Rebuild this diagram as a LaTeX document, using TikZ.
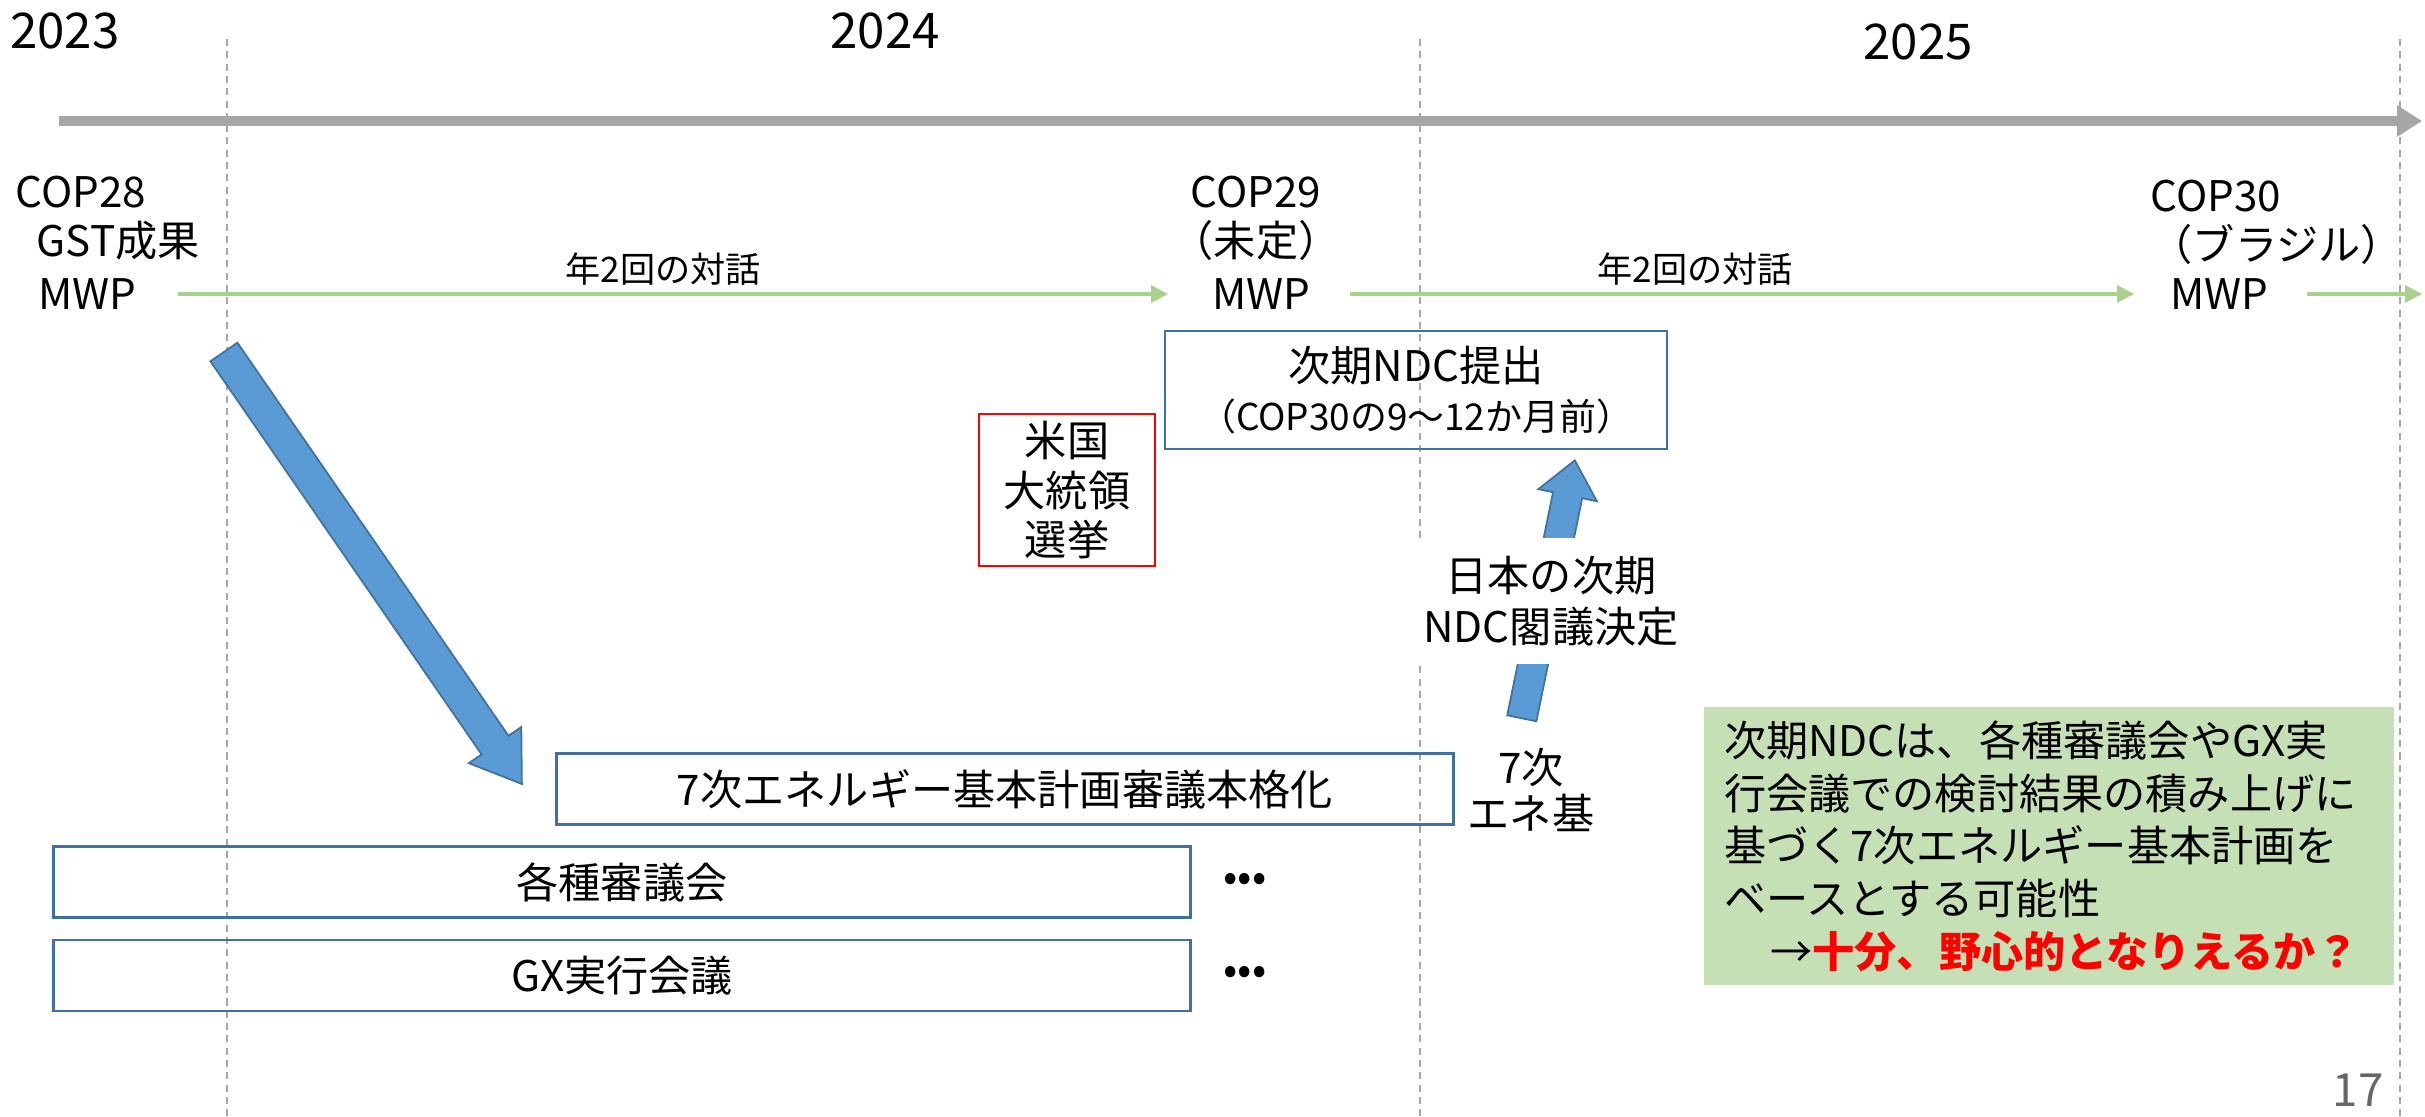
\documentclass[tikz,border=0pt]{standalone}
\usepackage{fontspec}
\setmainfont{Noto Sans CJK JP}
\usetikzlibrary{positioning, calc, arrows.meta, shapes.arrows}
\definecolor{axisgray}{HTML}{A6A6A6}
\definecolor{dialoggreen}{HTML}{A9D18E}
\definecolor{boxblue}{HTML}{41719C}
\definecolor{arrowblue}{HTML}{5B9BD5}
\definecolor{notegreen}{HTML}{C5E0B4}
\definecolor{alertred}{HTML}{FF0000}
\tikzset{
    every node/.style={inner sep=0pt, font=\fontsize{12}{14}\selectfont}, % plain text by default
    year/.style={font=\fontsize{14}{16}\selectfont}, % the year headings
    timeaxis/.style={axisgray, line width=2.6pt, -{Triangle[length=0.25cm, width=0.3cm]}}, % the grey time axis
    yearline/.style={axisgray, line width=0.6pt, dash pattern=on 2pt off 1.5pt}, % year boundaries
    dialog/.style={dialoggreen, line width=1pt, -{Triangle[length=0.17cm, width=0.17cm]}}, % green dialogue arrows
    dialog label/.style={text=black, font=\fontsize{10}{12}\selectfont, above=2pt},
    planbox/.style={draw=boxblue, line width=0.7pt, align=center}, % blue outlined boxes
    alertbox/.style={draw=alertred, line width=0.7pt, align=center},
    blockarrow/.style={single arrow, draw=boxblue, fill=arrowblue, line width=0.5pt, inner xsep=0pt, single arrow head indent=0pt}, % fat blue arrows
    notebox/.style={fill=notegreen, align=left, inner xsep=0.2cm, font=\fontsize{12}{15}\selectfont},
}
\begin{document}
\begin{tikzpicture}
\useasboundingbox (0,0) rectangle (24.25,11.16);

% years and their boundaries
\node[year] (y2023) at (0.65,10.85) {2023};
\node[year] (y2024) at (8.85,10.85) {2024};
\node[year] (y2025) at (19.18,10.74) {2025};
\foreach \x in {2.27,14.20,24.00}
    \draw[yearline] (\x,10.77) -- (\x,0);
\coordinate (axisstart) at (0.59,9.95);
\coordinate (axisend) at (24.22,9.95);
\draw[timeaxis] (axisstart) -- (axisend);

% COP meetings
\node[anchor=west, align=left] (cop28) at (0.15,8.98) {COP28\\\hspace*{0.5em}GST成果};
\node (mwp28) at (0.87,8.22) {MWP};
\node[align=center] (cop29) at (12.56,8.98) {COP29\\（未定）};
\node (mwp29) at (12.61,8.22) {MWP};
\node[anchor=west, align=left] (cop30) at (21.50,8.94) {COP30\\（ブラジル）};
\node (mwp30) at (22.19,8.22) {MWP};
\coordinate (talkend) at (24.22,8.22);
\draw[dialog] ([xshift=0.91cm]mwp28.center) -- node[dialog label, pos=0.49] (talk1) {年2回の対話} ([xshift=-0.93cm]mwp29.center);
\draw[dialog] ([xshift=0.89cm]mwp29.center) -- node[dialog label, pos=0.44] (talk2) {年2回の対話} ([xshift=-0.85cm]mwp30.center);
\draw[dialog] ([xshift=0.88cm]mwp30.center) -- (talkend);

% boxes
\node[planbox, minimum width=5.02cm, minimum height=1.18cm] (ndcsubmit) at (14.16,7.26) {次期NDC提出\\{\fontsize{10.5}{13}\selectfont（COP30の9～12か月前）}};
\node[alertbox, minimum width=1.76cm, minimum height=1.52cm] (uselection) at (10.67,6.26) {米国\\大統領\\選挙};
\node[planbox, minimum width=8.97cm, minimum height=0.71cm] (plan7) at (10.05,3.27) {7次エネルギー基本計画審議本格化};
\node[align=center, font=\fontsize{12}{13}\selectfont] (enekihon) at (15.31,3.26) {7次\\エネ基};
\node[planbox, minimum width=11.37cm, minimum height=0.71cm] (councils) at (6.22,2.34) {各種審議会};
\node[planbox, minimum width=11.37cm, minimum height=0.71cm, below=0.20cm of councils] (gxmeeting) {GX実行会議};
\node[right=0.31cm of councils] (moreA) {•••};
\node[right=0.31cm of gxmeeting] (moreB) {•••};

% fat arrows
\coordinate (diagtail) at (2.17,7.74);
\coordinate (diagtip) at (5.15,3.42);
\path let \p1=($(diagtip)-(diagtail)$), \n1={atan2(\y1,\x1)}, \n2={veclen(\x1,\y1)} in
    node[blockarrow, inner ysep=0.155cm, single arrow head extend=0.155cm, single arrow tip angle=68, minimum height=\n2, rotate=\n1] (gstarrow) at ($(diagtail)!0.5!(diagtip)$) {};
\coordinate (uptail) at (15.20,3.89);
\coordinate (uptip) at (15.73,6.47);
\path let \p1=($(uptip)-(uptail)$), \n1={atan2(\y1,\x1)}, \n2={veclen(\x1,\y1)} in
    node[blockarrow, inner ysep=0.14cm, single arrow head extend=0.15cm, single arrow tip angle=80, minimum height=\n2, rotate=\n1] (ndcarrow) at ($(uptail)!0.5!(uptip)$) {};
\node[fill=white, inner xsep=0.12cm, inner ysep=0.18cm, align=center, font=\fontsize{12}{14.5}\selectfont] (cabinet) at (15.51,5.15) {日本の次期\\NDC閣議決定};

% note
\node[notebox, minimum height=2.78cm, text width=6.5cm] (note) at (20.49,2.70) {次期NDCは、各種審議会やGX実\\行会議での検討結果の積み上げに\\基づく7次エネルギー基本計画を\\ベースとする可能性\\\hspace*{1.1em}→\textcolor{alertred}{\bfseries 十分、野心的となりえるか？}};

\node[text=black!60, font=\fontsize{13}{15}\selectfont] (pagenum) at (23.58,0.26) {17};
\end{tikzpicture}
\end{document}
